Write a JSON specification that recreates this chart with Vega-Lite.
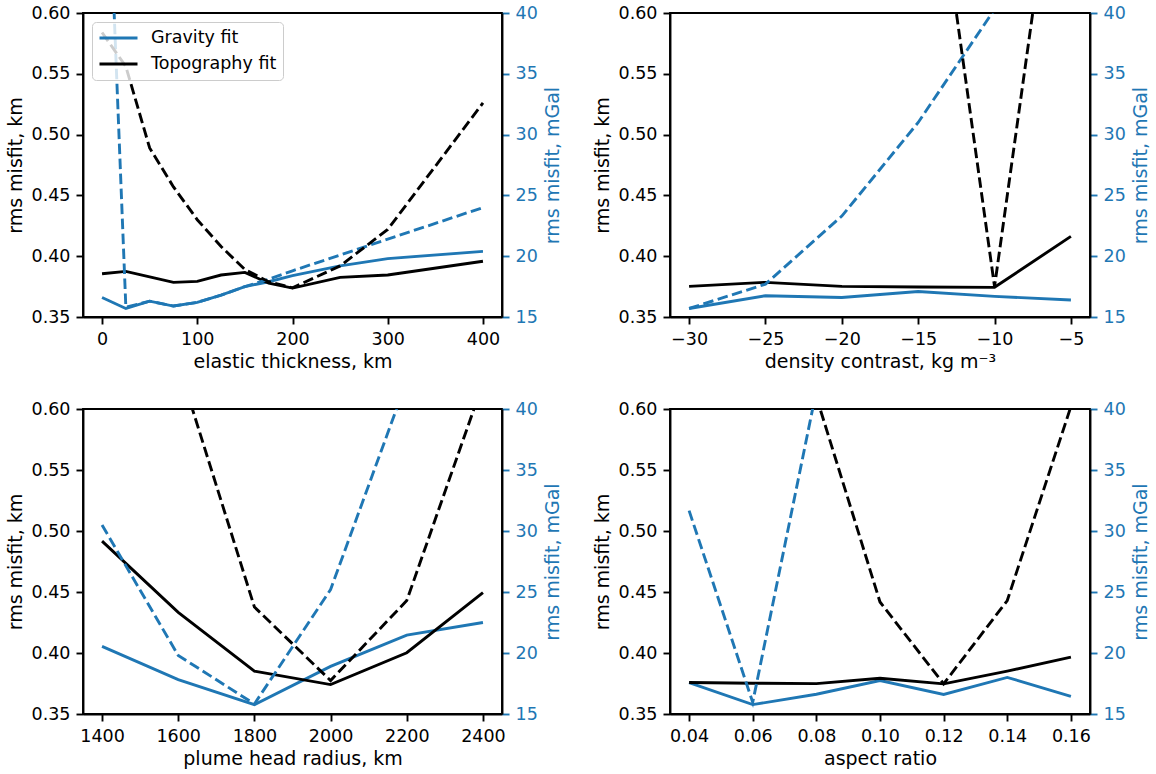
{
  "$schema": "https://vega.github.io/schema/vega-lite/v6.json",
  "background": "white",
  "padding": {"left": 5, "top": 3, "right": 5, "bottom": 5},
  "bounds": "flush",
  "columns": 2,
  "spacing": {"row": 92, "column": 168},
  "resolve": {"scale": {"color": "independent"}, "legend": {"color": "independent"}},
  "datasets": {
    "p1_km": [
      {"x": 0, "fit": "Gravity fit", "v": 0.366}, {"x": 25, "fit": "Gravity fit", "v": 0.357}, {"x": 50, "fit": "Gravity fit", "v": 0.363}, {"x": 75, "fit": "Gravity fit", "v": 0.359}, {"x": 100, "fit": "Gravity fit", "v": 0.362}, {"x": 125, "fit": "Gravity fit", "v": 0.368}, {"x": 150, "fit": "Gravity fit", "v": 0.375}, {"x": 175, "fit": "Gravity fit", "v": 0.379}, {"x": 200, "fit": "Gravity fit", "v": 0.384}, {"x": 250, "fit": "Gravity fit", "v": 0.392}, {"x": 300, "fit": "Gravity fit", "v": 0.398}, {"x": 400, "fit": "Gravity fit", "v": 0.404},
      {"x": 0, "fit": "Topography fit", "v": 0.3856}, {"x": 25, "fit": "Topography fit", "v": 0.3875}, {"x": 50, "fit": "Topography fit", "v": 0.383}, {"x": 75, "fit": "Topography fit", "v": 0.3785}, {"x": 100, "fit": "Topography fit", "v": 0.3793}, {"x": 125, "fit": "Topography fit", "v": 0.3845}, {"x": 150, "fit": "Topography fit", "v": 0.3867}, {"x": 175, "fit": "Topography fit", "v": 0.3778}, {"x": 200, "fit": "Topography fit", "v": 0.3738}, {"x": 250, "fit": "Topography fit", "v": 0.3826}, {"x": 300, "fit": "Topography fit", "v": 0.3845}, {"x": 400, "fit": "Topography fit", "v": 0.3958}
    ],
    "p1_mgal": [
      {"x": 0, "fit": "Gravity fit", "v": 65}, {"x": 25, "fit": "Gravity fit", "v": 15.8}, {"x": 50, "fit": "Gravity fit", "v": 16.3}, {"x": 75, "fit": "Gravity fit", "v": 15.9}, {"x": 100, "fit": "Gravity fit", "v": 16.2}, {"x": 125, "fit": "Gravity fit", "v": 16.8}, {"x": 150, "fit": "Gravity fit", "v": 17.5}, {"x": 175, "fit": "Gravity fit", "v": 18.1}, {"x": 200, "fit": "Gravity fit", "v": 18.8}, {"x": 250, "fit": "Gravity fit", "v": 20.1}, {"x": 300, "fit": "Gravity fit", "v": 21.4}, {"x": 400, "fit": "Gravity fit", "v": 24.0},
      {"x": 0, "fit": "Topography fit", "v": 38.4}, {"x": 25, "fit": "Topography fit", "v": 35.6}, {"x": 50, "fit": "Topography fit", "v": 28.9}, {"x": 75, "fit": "Topography fit", "v": 25.7}, {"x": 100, "fit": "Topography fit", "v": 23.0}, {"x": 125, "fit": "Topography fit", "v": 20.8}, {"x": 150, "fit": "Topography fit", "v": 18.9}, {"x": 175, "fit": "Topography fit", "v": 17.9}, {"x": 200, "fit": "Topography fit", "v": 17.4}, {"x": 250, "fit": "Topography fit", "v": 19.2}, {"x": 300, "fit": "Topography fit", "v": 22.2}, {"x": 400, "fit": "Topography fit", "v": 32.6}
    ],
    "p2_km": [
      {"x": -30, "fit": "Gravity fit", "v": 0.357}, {"x": -25, "fit": "Gravity fit", "v": 0.3675}, {"x": -20, "fit": "Gravity fit", "v": 0.366}, {"x": -15, "fit": "Gravity fit", "v": 0.371}, {"x": -10, "fit": "Gravity fit", "v": 0.367}, {"x": -5, "fit": "Gravity fit", "v": 0.364},
      {"x": -30, "fit": "Topography fit", "v": 0.3752}, {"x": -25, "fit": "Topography fit", "v": 0.3785}, {"x": -20, "fit": "Topography fit", "v": 0.3752}, {"x": -15, "fit": "Topography fit", "v": 0.3747}, {"x": -10, "fit": "Topography fit", "v": 0.3744}, {"x": -5, "fit": "Topography fit", "v": 0.4163}
    ],
    "p2_mgal": [
      {"x": -30, "fit": "Gravity fit", "v": 15.7}, {"x": -25, "fit": "Gravity fit", "v": 17.7}, {"x": -20, "fit": "Gravity fit", "v": 23.3}, {"x": -15, "fit": "Gravity fit", "v": 31.0}, {"x": -10, "fit": "Gravity fit", "v": 40.3}, {"x": -5, "fit": "Gravity fit", "v": 52},
      {"x": -30, "fit": "Topography fit", "v": 110}, {"x": -25, "fit": "Topography fit", "v": 90}, {"x": -20, "fit": "Topography fit", "v": 75}, {"x": -15, "fit": "Topography fit", "v": 62.5}, {"x": -10, "fit": "Topography fit", "v": 17.5}, {"x": -5, "fit": "Topography fit", "v": 62.5}
    ],
    "p3_km": [
      {"x": 1400, "fit": "Gravity fit", "v": 0.4054}, {"x": 1600, "fit": "Gravity fit", "v": 0.3782}, {"x": 1800, "fit": "Gravity fit", "v": 0.3577}, {"x": 2000, "fit": "Gravity fit", "v": 0.389}, {"x": 2200, "fit": "Gravity fit", "v": 0.4147}, {"x": 2400, "fit": "Gravity fit", "v": 0.425},
      {"x": 1400, "fit": "Topography fit", "v": 0.4917}, {"x": 1600, "fit": "Topography fit", "v": 0.4333}, {"x": 1800, "fit": "Topography fit", "v": 0.3851}, {"x": 2000, "fit": "Topography fit", "v": 0.3741}, {"x": 2200, "fit": "Topography fit", "v": 0.4002}, {"x": 2400, "fit": "Topography fit", "v": 0.4495}
    ],
    "p3_mgal": [
      {"x": 1400, "fit": "Gravity fit", "v": 30.49}, {"x": 1600, "fit": "Gravity fit", "v": 19.8}, {"x": 1800, "fit": "Gravity fit", "v": 15.82}, {"x": 2000, "fit": "Gravity fit", "v": 25.2}, {"x": 2200, "fit": "Gravity fit", "v": 42.3}, {"x": 2400, "fit": "Gravity fit", "v": 60},
      {"x": 1400, "fit": "Topography fit", "v": 60}, {"x": 1600, "fit": "Topography fit", "v": 43.7}, {"x": 1800, "fit": "Topography fit", "v": 23.77}, {"x": 2000, "fit": "Topography fit", "v": 17.74}, {"x": 2200, "fit": "Topography fit", "v": 24.3}, {"x": 2400, "fit": "Topography fit", "v": 42.1}
    ],
    "p4_km": [
      {"x": 0.04, "fit": "Gravity fit", "v": 0.3758}, {"x": 0.06, "fit": "Gravity fit", "v": 0.3577}, {"x": 0.08, "fit": "Gravity fit", "v": 0.3662}, {"x": 0.10, "fit": "Gravity fit", "v": 0.3774}, {"x": 0.12, "fit": "Gravity fit", "v": 0.366}, {"x": 0.14, "fit": "Gravity fit", "v": 0.38}, {"x": 0.16, "fit": "Gravity fit", "v": 0.3645},
      {"x": 0.04, "fit": "Topography fit", "v": 0.3758}, {"x": 0.06, "fit": "Topography fit", "v": 0.3752}, {"x": 0.08, "fit": "Topography fit", "v": 0.3749}, {"x": 0.10, "fit": "Topography fit", "v": 0.3793}, {"x": 0.12, "fit": "Topography fit", "v": 0.3747}, {"x": 0.14, "fit": "Topography fit", "v": 0.3851}, {"x": 0.16, "fit": "Topography fit", "v": 0.3966}
    ],
    "p4_mgal": [
      {"x": 0.04, "fit": "Gravity fit", "v": 31.67}, {"x": 0.06, "fit": "Gravity fit", "v": 15.96}, {"x": 0.08, "fit": "Gravity fit", "v": 41.5}, {"x": 0.10, "fit": "Gravity fit", "v": 60}, {"x": 0.12, "fit": "Gravity fit", "v": 55}, {"x": 0.14, "fit": "Gravity fit", "v": 50}, {"x": 0.16, "fit": "Gravity fit", "v": 50},
      {"x": 0.04, "fit": "Topography fit", "v": 60}, {"x": 0.06, "fit": "Topography fit", "v": 55}, {"x": 0.08, "fit": "Topography fit", "v": 41.0}, {"x": 0.10, "fit": "Topography fit", "v": 24.18}, {"x": 0.12, "fit": "Topography fit", "v": 17.47}, {"x": 0.14, "fit": "Topography fit", "v": 24.3}, {"x": 0.16, "fit": "Topography fit", "v": 40.2}
    ]
  },
  "concat": [
    {
      "width": 419, "height": 304,
      "layer": [
        {
          "data": {"name": "p1_km"},
          "mark": {"type": "line", "clip": true, "strokeWidth": 2.9},
          "encoding": {
            "x": {"field": "x", "type": "quantitative", "scale": {"domain": [-20, 420], "nice": false, "zero": false}, "axis": {"values": [0, 100, 200, 300, 400], "format": "d", "title": "elastic thickness, km"}},
            "y": {"field": "v", "type": "quantitative", "scale": {"domain": [0.35, 0.6], "nice": false, "zero": false}, "axis": {"orient": "left", "values": [0.35, 0.4, 0.45, 0.5, 0.55, 0.6], "format": ".2f", "title": "rms misfit, km"}},
            "color": {"field": "fit", "type": "nominal", "scale": {"domain": ["Gravity fit", "Topography fit"], "range": ["#1f77b4", "#000000"]},
              "legend": {"orient": "top-left", "offset": 9, "title": null, "labelFontSize": 17.5, "labelFont": "DejaVu Sans", "labelColor": "black", "symbolType": "stroke", "symbolSize": 1444, "symbolStrokeWidth": 2.9, "symbolDash": [1, 0], "clipHeight": 20, "labelOffset": 12, "rowPadding": 6, "padding": 6, "fillColor": "rgba(255,255,255,0.8)", "strokeColor": "#cccccc", "cornerRadius": 4}}
          }
        },
        {
          "data": {"name": "p1_mgal"},
          "mark": {"type": "line", "clip": true, "strokeWidth": 2.9, "strokeDash": [10.5, 4.5]},
          "encoding": {
            "x": {"field": "x", "type": "quantitative", "scale": {"domain": [-20, 420], "nice": false, "zero": false}, "axis": {"values": [0, 100, 200, 300, 400], "format": "d", "title": "elastic thickness, km"}},
            "y": {"field": "v", "type": "quantitative", "scale": {"domain": [15, 40], "nice": false, "zero": false}, "axis": {"orient": "right", "values": [15, 20, 25, 30, 35, 40], "format": "d", "title": "rms misfit, mGal", "tickColor": "#1f77b4", "labelColor": "#1f77b4", "titleColor": "#1f77b4", "titleAngle": 270, "titleBaseline": "top"}},
            "color": {"field": "fit", "type": "nominal", "scale": {"domain": ["Gravity fit", "Topography fit"], "range": ["#1f77b4", "#000000"]}}
          }
        }
      ],
      "resolve": {"scale": {"y": "independent"}}
    },
    {
      "width": 420, "height": 304,
      "layer": [
        {
          "data": {"name": "p2_km"},
          "mark": {"type": "line", "clip": true, "strokeWidth": 2.9},
          "encoding": {
            "x": {"field": "x", "type": "quantitative", "scale": {"domain": [-31.25, -3.75], "nice": false, "zero": false}, "axis": {"values": [-30, -25, -20, -15, -10, -5], "format": "d", "title": "density contrast, kg m⁻³"}},
            "y": {"field": "v", "type": "quantitative", "scale": {"domain": [0.35, 0.6], "nice": false, "zero": false}, "axis": {"orient": "left", "values": [0.35, 0.4, 0.45, 0.5, 0.55, 0.6], "format": ".2f", "title": "rms misfit, km"}},
            "color": {"field": "fit", "type": "nominal", "scale": {"domain": ["Gravity fit", "Topography fit"], "range": ["#1f77b4", "#000000"]}, "legend": null}
          }
        },
        {
          "data": {"name": "p2_mgal"},
          "mark": {"type": "line", "clip": true, "strokeWidth": 2.9, "strokeDash": [10.5, 4.5]},
          "encoding": {
            "x": {"field": "x", "type": "quantitative", "scale": {"domain": [-31.25, -3.75], "nice": false, "zero": false}, "axis": {"values": [-30, -25, -20, -15, -10, -5], "format": "d", "title": "density contrast, kg m⁻³"}},
            "y": {"field": "v", "type": "quantitative", "scale": {"domain": [15, 40], "nice": false, "zero": false}, "axis": {"orient": "right", "values": [15, 20, 25, 30, 35, 40], "format": "d", "title": "rms misfit, mGal", "tickColor": "#1f77b4", "labelColor": "#1f77b4", "titleColor": "#1f77b4", "titleAngle": 270, "titleBaseline": "top"}},
            "color": {"field": "fit", "type": "nominal", "scale": {"domain": ["Gravity fit", "Topography fit"], "range": ["#1f77b4", "#000000"]}, "legend": null}
          }
        }
      ],
      "resolve": {"scale": {"y": "independent"}}
    },
    {
      "width": 419, "height": 305,
      "layer": [
        {
          "data": {"name": "p3_km"},
          "mark": {"type": "line", "clip": true, "strokeWidth": 2.9},
          "encoding": {
            "x": {"field": "x", "type": "quantitative", "scale": {"domain": [1350, 2450], "nice": false, "zero": false}, "axis": {"values": [1400, 1600, 1800, 2000, 2200, 2400], "format": "d", "title": "plume head radius, km"}},
            "y": {"field": "v", "type": "quantitative", "scale": {"domain": [0.35, 0.6], "nice": false, "zero": false}, "axis": {"orient": "left", "values": [0.35, 0.4, 0.45, 0.5, 0.55, 0.6], "format": ".2f", "title": "rms misfit, km"}},
            "color": {"field": "fit", "type": "nominal", "scale": {"domain": ["Gravity fit", "Topography fit"], "range": ["#1f77b4", "#000000"]}, "legend": null}
          }
        },
        {
          "data": {"name": "p3_mgal"},
          "mark": {"type": "line", "clip": true, "strokeWidth": 2.9, "strokeDash": [10.5, 4.5]},
          "encoding": {
            "x": {"field": "x", "type": "quantitative", "scale": {"domain": [1350, 2450], "nice": false, "zero": false}, "axis": {"values": [1400, 1600, 1800, 2000, 2200, 2400], "format": "d", "title": "plume head radius, km"}},
            "y": {"field": "v", "type": "quantitative", "scale": {"domain": [15, 40], "nice": false, "zero": false}, "axis": {"orient": "right", "values": [15, 20, 25, 30, 35, 40], "format": "d", "title": "rms misfit, mGal", "tickColor": "#1f77b4", "labelColor": "#1f77b4", "titleColor": "#1f77b4", "titleAngle": 270, "titleBaseline": "top"}},
            "color": {"field": "fit", "type": "nominal", "scale": {"domain": ["Gravity fit", "Topography fit"], "range": ["#1f77b4", "#000000"]}, "legend": null}
          }
        }
      ],
      "resolve": {"scale": {"y": "independent"}}
    },
    {
      "width": 420, "height": 305,
      "layer": [
        {
          "data": {"name": "p4_km"},
          "mark": {"type": "line", "clip": true, "strokeWidth": 2.9},
          "encoding": {
            "x": {"field": "x", "type": "quantitative", "scale": {"domain": [0.034, 0.166], "nice": false, "zero": false}, "axis": {"values": [0.04, 0.06, 0.08, 0.1, 0.12, 0.14, 0.16], "format": ".2f", "title": "aspect ratio"}},
            "y": {"field": "v", "type": "quantitative", "scale": {"domain": [0.35, 0.6], "nice": false, "zero": false}, "axis": {"orient": "left", "values": [0.35, 0.4, 0.45, 0.5, 0.55, 0.6], "format": ".2f", "title": "rms misfit, km"}},
            "color": {"field": "fit", "type": "nominal", "scale": {"domain": ["Gravity fit", "Topography fit"], "range": ["#1f77b4", "#000000"]}, "legend": null}
          }
        },
        {
          "data": {"name": "p4_mgal"},
          "mark": {"type": "line", "clip": true, "strokeWidth": 2.9, "strokeDash": [10.5, 4.5]},
          "encoding": {
            "x": {"field": "x", "type": "quantitative", "scale": {"domain": [0.034, 0.166], "nice": false, "zero": false}, "axis": {"values": [0.04, 0.06, 0.08, 0.1, 0.12, 0.14, 0.16], "format": ".2f", "title": "aspect ratio"}},
            "y": {"field": "v", "type": "quantitative", "scale": {"domain": [15, 40], "nice": false, "zero": false}, "axis": {"orient": "right", "values": [15, 20, 25, 30, 35, 40], "format": "d", "title": "rms misfit, mGal", "tickColor": "#1f77b4", "labelColor": "#1f77b4", "titleColor": "#1f77b4", "titleAngle": 270, "titleBaseline": "top"}},
            "color": {"field": "fit", "type": "nominal", "scale": {"domain": ["Gravity fit", "Topography fit"], "range": ["#1f77b4", "#000000"]}, "legend": null}
          }
        }
      ],
      "resolve": {"scale": {"y": "independent"}}
    }
  ],
  "config": {
    "font": "DejaVu Sans",
    "view": {"stroke": "black", "strokeWidth": 1.9},
    "axis": {
      "grid": false,
      "labelFont": "DejaVu Sans", "titleFont": "DejaVu Sans",
      "labelFontSize": 17.5, "titleFontSize": 19, "titleFontWeight": "normal",
      "labelColor": "black", "titleColor": "black",
      "tickColor": "black", "domainColor": "black",
      "tickSize": 7, "tickWidth": 1.9, "domainWidth": 1.9,
      "labelPadding": 6, "titlePadding": 6
    },
    "axisX": {"titlePadding": 5},
    "legend": {"labelFont": "DejaVu Sans"}
  }
}
